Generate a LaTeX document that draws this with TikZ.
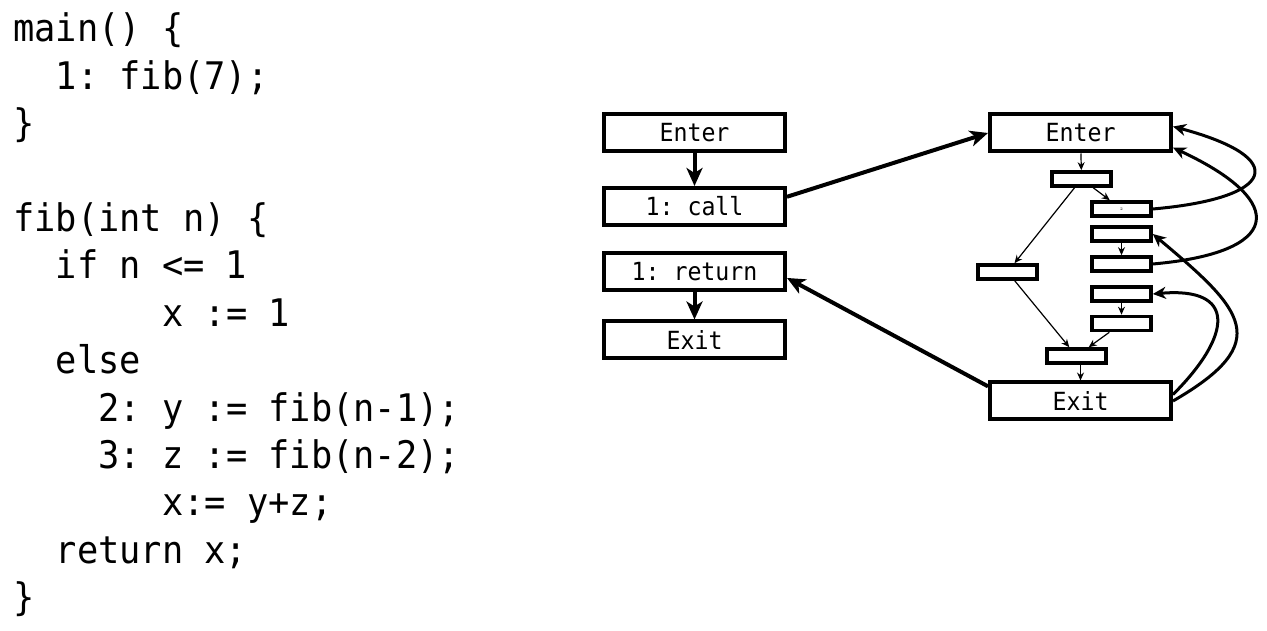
\documentclass[tikz,border=0pt]{standalone}
\usepackage{fontspec}
\usetikzlibrary{arrows.meta}
\newfontfamily\codefont[FakeStretch=0.93]{DejaVu Sans Mono}

\begin{document}
\frenchspacing
\begin{tikzpicture}[x=1pt,y=1pt,
    codeline/.style={anchor=base west,inner sep=0pt,font=\codefont\fontsize{38}{38}\selectfont},
    block/.style={draw,line width=4pt,minimum width=181pt,minimum height=37pt,inner sep=0pt,font=\codefont\fontsize{25}{25}\selectfont},
    stmt/.style={draw,line width=3.6pt,minimum width=59pt,minimum height=14pt,inner sep=0pt},
    flow/.style={-{Stealth[length=18pt,width=16pt,inset=5pt]},line width=4pt},
    recur/.style={-{Stealth[length=13pt,width=12pt,inset=4pt]},line width=3pt},
    link/.style={-{Stealth[length=8pt,width=7pt]},line width=1.2pt}]
    \useasboundingbox (0,0) rectangle (1267,631);

    % The program
    \node[codeline] (l1) at (13,589) {main() \{};
    \node[codeline] (l2) at (55.6,541.6) {1: fib(7);};
    \node[codeline] (l3) at (13,494.2) {\}};
    \node[codeline] (l5) at (13,399.4) {fib(int n) \{};
    \node[codeline] (l6) at (55.6,352) {if n <= 1};
    \node[codeline] (l7) at (162.1,304.6) {x := 1};
    \node[codeline] (l8) at (55.6,257.2) {else};
    \node[codeline] (l9) at (98.2,209.8) {2: y := fib(n-1);};
    \node[codeline] (l10) at (98.2,162.4) {3: z := fib(n-2);};
    \node[codeline] (l11) at (162.1,115) {x:= y+z;};
    \node[codeline] (l12) at (55.6,67.6) {return x;};
    \node[codeline] (l13) at (13,20.2) {\}};

    % Graph of main
    \node[block] (enterM) at (694.5,498.5) {Enter};
    \node[block] (callM) at (694.5,424.5) {1: call};
    \node[block] (retM) at (694.5,359.5) {1: return};
    \node[block] (exitM) at (694.5,291) {Exit};

    % Graph of fib
    \node[block] (enterF) at (1080.5,498) {Enter};
    \node[block] (exitF) at (1080.5,230) {Exit};
    \node[stmt] (cond) at (1081.5,452) {};
    \node[stmt] (calla) at (1121.5,422) {\fontsize{4}{4}\selectfont 2};
    \node[stmt] (reta) at (1121.5,397) {};
    \node[stmt] (callb) at (1121.5,367) {};
    \node[stmt] (retb) at (1121.5,337) {};
    \node[stmt] (sum) at (1121.5,307.5) {};
    \node[stmt] (assign) at (1007.5,359) {};
    \node[stmt] (join) at (1076.5,275) {};

    % Edges inside main
    \draw[flow] (enterM) -- (callM);
    \draw[flow] (retM) -- (exitM);

    % Call and return between the graphs
    \draw[flow] (callM.6) -- (enterF.west);
    \draw[flow] (exitF.171) -- (retM.-4);

    % Edges inside fib
    \draw[link] (enterF) -- (cond);
    \draw[link] (cond) -- (calla);
    \draw[link] (cond) -- (assign);
    \draw[link] (reta) -- (callb);
    \draw[link] (retb) -- (sum);
    \draw[link] (assign) -- (join);
    \draw[link] (sum) -- (join);
    \draw[link] (join.south -| exitF) -- (exitF);

    % Recursive calls and returns
    \draw[recur] (calla.east) to[out=5,in=-15,looseness=3.7] (enterF.4);
    \draw[recur] (callb.east) to[out=5,in=-25,looseness=2.8] (enterF.-9);
    \draw[recur] (exitF.east) to[out=30,in=-40,looseness=1.8] (reta.east);
    \draw[recur] (exitF.4) to[out=45,in=5,looseness=2.1] (retb.east);
\end{tikzpicture}
\end{document}
